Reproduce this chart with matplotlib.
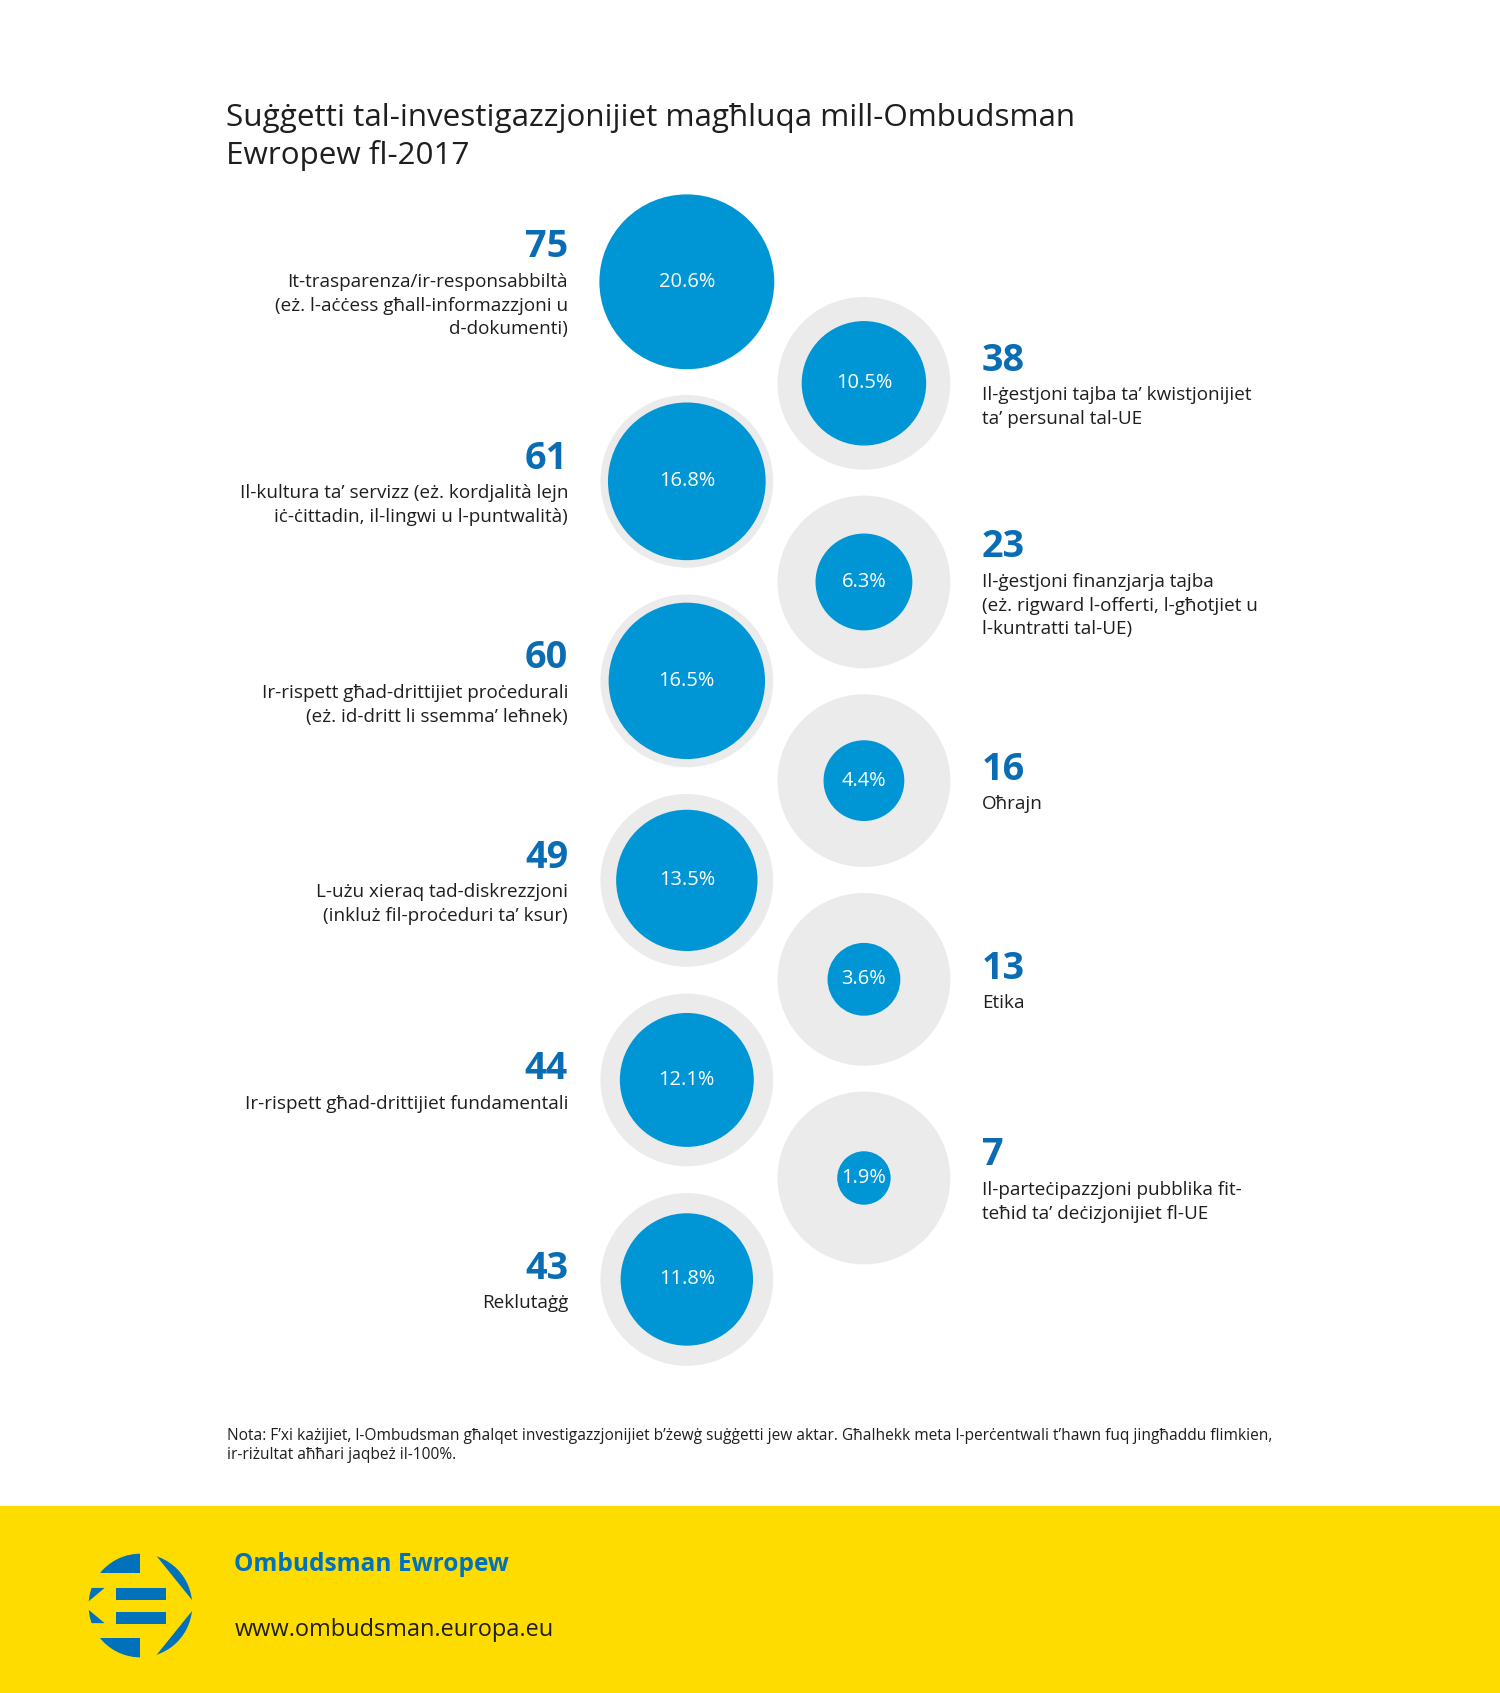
import numpy as np
import matplotlib
matplotlib.use("Agg")
import matplotlib.pyplot as plt
from matplotlib.patches import Circle, Rectangle, Polygon

# Ombudsman 2017 - inquiries closed by subject (Maltese version)

title_lines = ["Suġġetti tal-investigazzjonijiet magħluqa mill-Ombudsman", "Ewropew fl-2017"]

left_counts = [75, 61, 60, 49, 44, 43]
left_pcts = ["20.6%", "16.8%", "16.5%", "13.5%", "12.1%", "11.8%"]
left_labels = [
    ["It-trasparenza/ir-responsabbiltà", "(eż. l-aċċess għall-informazzjoni u", "d-dokumenti)"],
    ["Il-kultura ta’ servizz (eż. kordjalità lejn", "iċ-ċittadin, il-lingwi u l-puntwalità)"],
    ["Ir-rispett għad-drittijiet proċedurali", "(eż. id-dritt li ssemma’ leħnek)"],
    ["L-użu xieraq tad-diskrezzjoni", "(inkluż fil-proċeduri ta’ ksur)"],
    ["Ir-rispett għad-drittijiet fundamentali"],
    ["Reklutaġġ"],
]

right_counts = [38, 23, 16, 13, 7]
right_pcts = ["10.5%", "6.3%", "4.4%", "3.6%", "1.9%"]
right_labels = [
    ["Il-ġestjoni tajba ta’ kwistjonijiet", "ta’ persunal tal-UE"],
    ["Il-ġestjoni finanzjarja tajba", "(eż. rigward l-offerti, l-għotjiet u", "l-kuntratti tal-UE)"],
    ["Oħrajn"],
    ["Etika"],
    ["Il-parteċipazzjoni pubblika fit-", "teħid ta’ deċizjonijiet fl-UE"],
]

note_lines = ["Nota: F’xi każijiet, l-Ombudsman għalqet investigazzjonijiet b’żewġ suġġetti jew aktar. "
              "Għalhekk meta l-perċentwali t’hawn fuq jingħaddu flimkien,",
              "ir-riżultat aħħari jaqbeż il-100%."]

BLUE = "#0096d6"
DARKBLUE = "#0a6db4"
GREY = "#ebebeb"
TEXT = "#1e1e1e"
YELLOW = "#ffdc00"
LOGO = "#0071bb"

plt.rcParams['font.family'] = ['Open Sans', 'DejaVu Sans']

W, H = 1389, 1568          # layout units (pixels of the design)
PT = 1500 / W * 0.72       # points per layout unit

fig = plt.figure(figsize=(15, 16.93), dpi=100)
ax = fig.add_axes([0, 0, 1, 1])
ax.set_xlim(0, W)
ax.set_ylim(H, 0)
ax.axis('off')

for i, t in enumerate(title_lines):
    ax.text(209, 117 + 35 * i, t, fontsize=29 * PT, color=TEXT, va='baseline', ha='left')

K = 9.35   # radius per sqrt(count)
RG = 80    # grey ring radius


def bubble(cx, cy, count, pct):
    ax.add_patch(Circle((cx, cy), RG, color=GREY, lw=0))
    ax.add_patch(Circle((cx, cy), K * np.sqrt(count), color=BLUE, lw=0))
    ax.text(cx, cy, pct, fontsize=18.5 * PT, color='white', ha='center', va='center')


def label(x, cy, count, lines, ha):
    n = len(lines)
    ny = cy - 11 * n
    ax.text(x, ny + 1, str(count), fontsize=35 * PT, fontweight='bold', color=DARKBLUE,
            ha=ha, va='center')
    for i, ln in enumerate(lines):
        ax.text(x, ny + 33 + 22 * i, ln, fontsize=17.5 * PT, color=TEXT, ha=ha, va='center')


for i, (c, p, lb) in enumerate(zip(left_counts, left_pcts, left_labels)):
    cy = 261 + 184.8 * i
    bubble(636, cy, c, p)
    label(526, cy, c, lb, 'right')

for i, (c, p, lb) in enumerate(zip(right_counts, right_pcts, right_labels)):
    cy = 355 + 184 * i
    bubble(800, cy, c, p)
    label(909, cy, c, lb, 'left')

for i, t in enumerate(note_lines):
    ax.text(210, 1330 + 18 * i, t, fontsize=14.4 * PT, color=TEXT, ha='left', va='center')

# footer
ax.add_patch(Rectangle((0, 1395), W, H - 1395, color=YELLOW, lw=0))
ax.text(217, 1449, "Ombudsman Ewropew", fontsize=22.7 * PT, fontweight='bold', color=LOGO,
        ha='left', va='center')
ax.text(217, 1510, "www.ombudsman.europa.eu", fontsize=21.8 * PT, color=TEXT, ha='left', va='center')

# logo
lx, ly, lr = 130, 1487, 48
clip = Circle((lx, ly), lr, transform=ax.transData)


def piece(pts):
    pts = [(lx + a * lr, ly - b * lr) for a, b in pts]
    p = Polygon(pts, closed=True, color=LOGO, lw=0)
    ax.add_patch(p)
    p.set_clip_path(clip)


piece([(-1.1, 1.1), (0.0, 1.1), (0.0, 0.62), (-1.1, 0.62)])
piece([(-1.1, -1.1), (0.0, -1.1), (0.0, -0.62), (-1.1, -0.62)])
piece([(0.1, 1.2), (1.2, 1.2), (1.2, 0.1), (1.0, 0.1)])
piece([(0.1, -1.2), (1.2, -1.2), (1.2, -0.1), (1.0, -0.1)])
piece([(-1.2, 0.34), (-0.69, 0.34), (-1.0, 0.08), (-1.2, 0.08)])
piece([(-1.2, -0.34), (-0.69, -0.34), (-1.0, -0.08), (-1.2, -0.08)])
piece([(-0.48, 0.34), (0.5, 0.34), (0.5, 0.1), (-0.48, 0.1)])
piece([(-0.48, -0.12), (0.5, -0.12), (0.5, -0.36), (-0.48, -0.36)])

fig.savefig("out.png", dpi=100)
